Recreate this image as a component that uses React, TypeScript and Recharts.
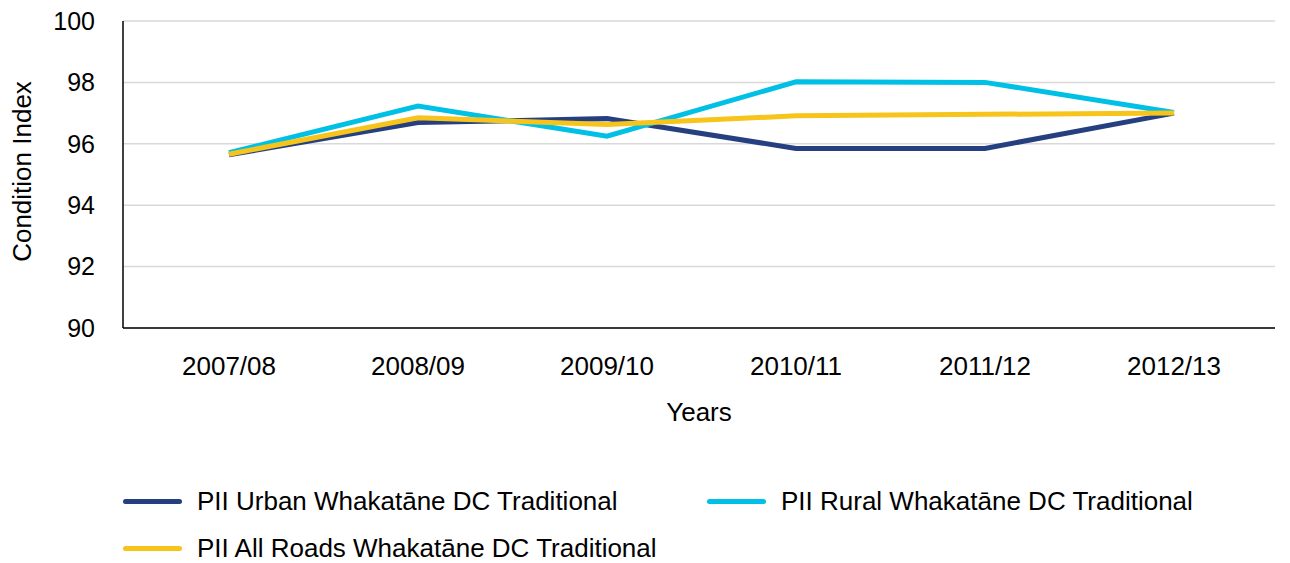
import { LineChart, Line, XAxis, YAxis, CartesianGrid } from "recharts";

const years = ["2007/08", "2008/09", "2009/10", "2010/11", "2011/12", "2012/13"];
const urban = [95.64, 96.69, 96.82, 95.85, 95.85, 97.0];
const rural = [95.71, 97.23, 96.25, 98.02, 98.0, 97.02];
const allRoads = [95.66, 96.85, 96.63, 96.91, 96.96, 97.0];
const yTicks = [90, 92, 94, 96, 98, 100];

const seriesNames = [
  "PII Urban Whakatāne DC Traditional",
  "PII Rural Whakatāne DC Traditional",
  "PII All Roads Whakatāne DC Traditional",
];
const seriesColors = ["#253f80", "#00c0e6", "#f6c41a"];

const data = years.map((year, i) => ({
  year,
  urban: urban[i],
  rural: rural[i],
  allRoads: allRoads[i],
}));

const keys = ["urban", "rural", "allRoads"];

const FONT = '"Liberation Sans", Arial, sans-serif';

const YTitle = (props: any) => {
  const { viewBox } = props;
  const cy = viewBox.y + viewBox.height / 2 - 3;
  return (
    <text
      transform={`translate(31, ${cy}) rotate(-90)`}
      textAnchor="middle"
      fontSize={26}
      fill="#000"
      fontFamily={FONT}
    >
      Condition Index
    </text>
  );
};

const XTitle = (props: any) => {
  const { viewBox } = props;
  return (
    <text
      x={viewBox.x + viewBox.width / 2}
      y={viewBox.y + 93}
      textAnchor="middle"
      fontSize={26}
      fill="#000"
      fontFamily={FONT}
    >
      Years
    </text>
  );
};

// legend slots: two on the first row, one on the second
const legendSlots = [
  { left: 123, top: 501 },
  { left: 707, top: 501 },
  { left: 123, top: 548 },
];

const App = () => {
  return (
    <div
      style={{
        position: "absolute",
        left: 0,
        top: 0,
        width: 1290,
        height: 563,
        background: "#fff",
        fontFamily: FONT,
      }}
    >
      <LineChart
        width={1290}
        height={563}
        data={data}
        margin={{ top: 21, right: 15, left: 0, bottom: 135 }}
      >
        <CartesianGrid vertical={false} stroke="#d9d9d9" strokeWidth={1.5} />
        <XAxis
          dataKey="year"
          height={100}
          padding={{ left: 106, right: 101 }}
          axisLine={{ stroke: "#000", strokeWidth: 1.5 }}
          tickLine={false}
          tickSize={0}
          tickMargin={29}
          tick={{ fontSize: 26, fill: "#000", fontFamily: FONT }}
          label={{ content: XTitle }}
        />
        <YAxis
          width={123}
          domain={[90, 100]}
          ticks={yTicks}
          axisLine={{ stroke: "#000", strokeWidth: 1.5 }}
          tickLine={false}
          tickSize={0}
          tickMargin={28}
          tick={{ fontSize: 25, fill: "#000", fontFamily: FONT }}
          label={{ content: YTitle }}
        />
        {keys.map((k, i) => (
          <Line
            key={k}
            type="linear"
            dataKey={k}
            name={seriesNames[i]}
            stroke={seriesColors[i]}
            strokeWidth={5}
            dot={false}
            activeDot={false}
            isAnimationActive={false}
          />
        ))}
      </LineChart>
      {seriesNames.map((name, i) => (
        <div
          key={name}
          style={{
            position: "absolute",
            left: legendSlots[i].left,
            top: legendSlots[i].top - 15,
            height: 30,
            display: "flex",
            alignItems: "center",
            whiteSpace: "nowrap",
          }}
        >
          <span
            style={{
              display: "inline-block",
              width: 59,
              height: 5,
              borderRadius: 3,
              background: seriesColors[i],
              marginRight: 15,
            }}
          />
          <span style={{ fontSize: 26, color: "#000" }}>{name}</span>
        </div>
      ))}
    </div>
  );
};

export default App;
